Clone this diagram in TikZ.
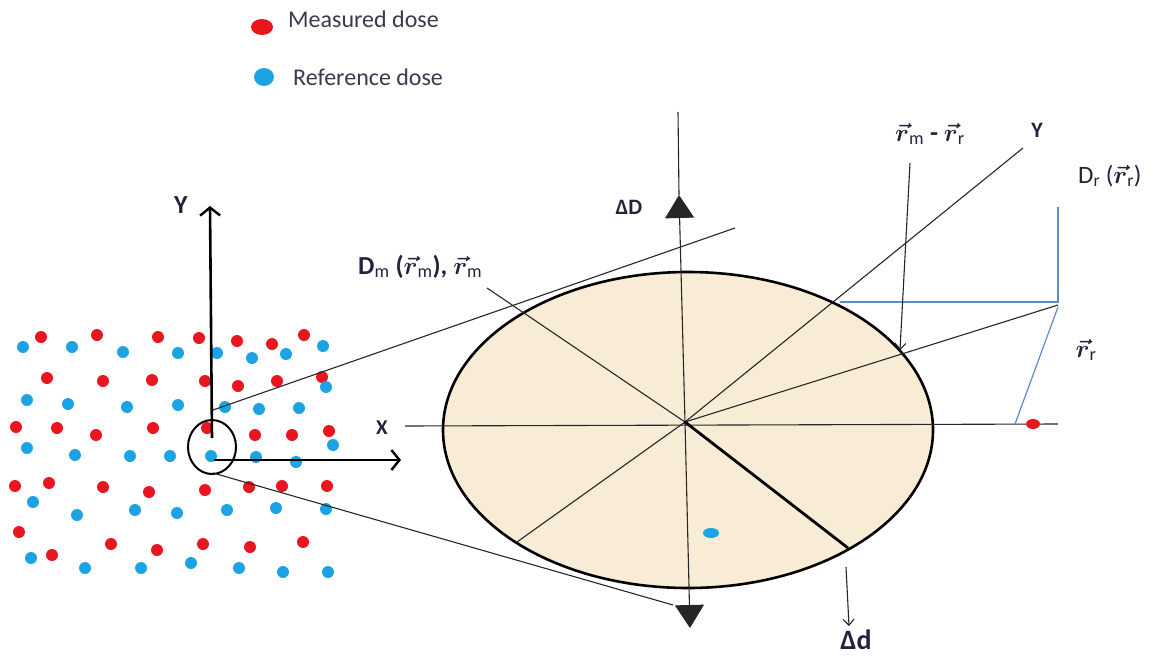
\documentclass[tikz,border=0pt]{standalone}
\usepackage{fontspec}
\setmainfont{Carlito}
\usetikzlibrary{arrows.meta}
\definecolor{DoseRed}{HTML}{E8161E}
\definecolor{DoseBlue}{HTML}{1CA3E3}
\definecolor{Parch}{HTML}{F8ECD7}
\definecolor{Steel}{HTML}{5B8CC8}
\definecolor{Ink}{HTML}{22243A}
\tikzset{
  measured dot/.style={fill=DoseRed},
  reference dot/.style={fill=DoseBlue},
  axis arrow/.style={-{Straight Barb[length=8pt,width=20pt,line width=2.4pt]},line width=2.6pt},
  thin line/.style={line width=1.1pt,draw=black!85},
  thin arrow/.style={thin line,-{Straight Barb[length=6pt,width=11pt]}},
  big tip/.style={-{Triangle[length=23pt,width=29pt]}},
  steel line/.style={line width=1.2pt,draw=Steel},
  dose label/.style={font=\fontsize{26}{28}\selectfont\bfseries\boldmath,text=Ink,inner sep=0pt},
  legend text/.style={font=\fontsize{24}{26}\selectfont,text=Ink!90,inner sep=0pt,anchor=west}
}
\newcommand{\rvec}{$\vec{r}$}

\begin{document}
\begin{tikzpicture}[x=1pt,y=-1pt]
  \useasboundingbox (0,0) rectangle (1162,656);
  % legend
  \fill[measured dot] (262,27) ellipse[x radius=11pt,y radius=8pt];
  \fill[reference dot] (264,77) ellipse[x radius=10pt,y radius=9pt];
  \node[legend text] (meas) at (288,19) {Measured dose};
  \node[legend text] (refd) at (293,77) {Reference dose};

  % dose points
  \foreach \px/\py in {41/337,97/335,158/337,199/338,237/341,272/344,304/335,
      47/378,103/381,152/380,205/381,238/386,277/381,322/377,
      16/427,57/428,96/435,153/428,207/428,255/435,292/435,329/431,
      15/486,49/483,103/487,149/492,205/490,249/487,282/486,327/486,
      19/532,111/544,157/550,203/544,250/547,303/542,52/555}
    \fill[measured dot] (\px,\py) circle[radius=6pt];
  \foreach \px/\py in {23/347,72/347,123/352,178/353,217/353,252/358,286/354,323/346,
      27/400,68/404,127/407,178/405,225/407,259/409,299/408,326/387,
      27/448,75/455,130/456,170/456,211/456,256/457,296/462,333/445,
      33/502,77/515,135/510,177/513,227/510,276/508,326/509,
      31/558,85/568,141/568,191/563,239/568,283/572,328/572}
    \fill[reference dot] (\px,\py) circle[radius=6pt];

  % left axes and zoom circle
  \coordinate (orig) at (212,447);
  \coordinate (ytip) at (210,206);
  \coordinate (xtip) at (401,460);
  \draw[axis arrow] (212,438) -- (ytip);
  \draw[axis arrow] (214,460) -- (xtip);
  \draw[line width=2pt] (orig) ellipse[x radius=24pt,y radius=27pt];
  \node[dose label,font=\fontsize{26}{28}\selectfont\bfseries] (ylab) at (181,205) {Y};
  \node[dose label,font=\fontsize{21}{22}\selectfont\bfseries] (xlab) at (382,428) {X};

  % magnified spot
  \coordinate (O) at (685,422);
  \draw[line width=2.6pt,fill=Parch] (688,430) ellipse[x radius=245pt,y radius=158pt];
  \coordinate (uptan) at (735,228);
  \coordinate (lotan) at (673,605);
  \draw[thin line] (213,410) -- (uptan);
  \draw[thin line] (213,473) -- (lotan);

  % axes through the spot
  \coordinate (xstart) at (405,426);
  \coordinate (xend) at (1058,424);
  \coordinate (dDup) at (679,195);
  \coordinate (dDtop) at (678,112);
  \coordinate (dDbot) at (690,628);
  \coordinate (yR) at (1023,148);
  \coordinate (yL) at (517,542);
  \coordinate (rmtip) at (487,288);
  \coordinate (corner) at (1058,305);
  \coordinate (dd) at (848,548);
  \draw[thin line] (xstart) -- (xend);
  \draw[thin line,big tip] (O) -- (dDup);
  \draw[thin line] (dDup) -- (dDtop);
  \draw[thin line,big tip] (O) -- (dDbot);
  \draw[thin line] (O) -- (yR);
  \draw[thin line] (O) -- (yL);
  \draw[thin line] (rmtip) -- (O);
  \draw[thin line] (O) -- (corner);
  \draw[line width=2.8pt] (O) -- (dd);

  % reference point construction
  \draw[steel line] (840,302) -- (1058,302) -- (1058,207);
  \draw[steel line] (1058,307) -- (1015,424);
  \fill[measured dot] (1033,424) ellipse[x radius=7pt,y radius=5pt];
  \fill[reference dot] (711,533) ellipse[x radius=8pt,y radius=5pt];

  % labels
  \node[dose label,font=\fontsize{22}{24}\selectfont\bfseries] (dD) at (629,207) {ΔD};
  \node[dose label,anchor=base west] (dm) at (358,274)
    {D\textsubscript{\mdseries m} (\rvec\textsubscript{\mdseries m}), \rvec\textsubscript{\mdseries m}};
  \node[dose label,anchor=base west] (diff) at (895,141)
    {\rvec\textsubscript{\mdseries m} - \rvec\textsubscript{\mdseries r}};
  \node[dose label,font=\fontsize{22}{24}\selectfont\bfseries] (yright) at (1037,130) {Y};
  \node[dose label,font=\fontsize{25}{28}\selectfont\boldmath,anchor=base west] (dr) at (1078,183)
    {D\textsubscript{r} (\rvec\textsubscript{r})};
  \node[dose label] (rr) at (1086,350) {\rvec\textsubscript{\mdseries r}};
  \node[dose label,font=\fontsize{28}{30}\selectfont\bfseries] (dsmall) at (856,640) {Δd};
  \coordinate (ddhit) at (900,350);
  \draw[thin arrow] (910,163) -- (ddhit);
  \draw[thin arrow] (846,567) -- (849,626);
\end{tikzpicture}
\end{document}
